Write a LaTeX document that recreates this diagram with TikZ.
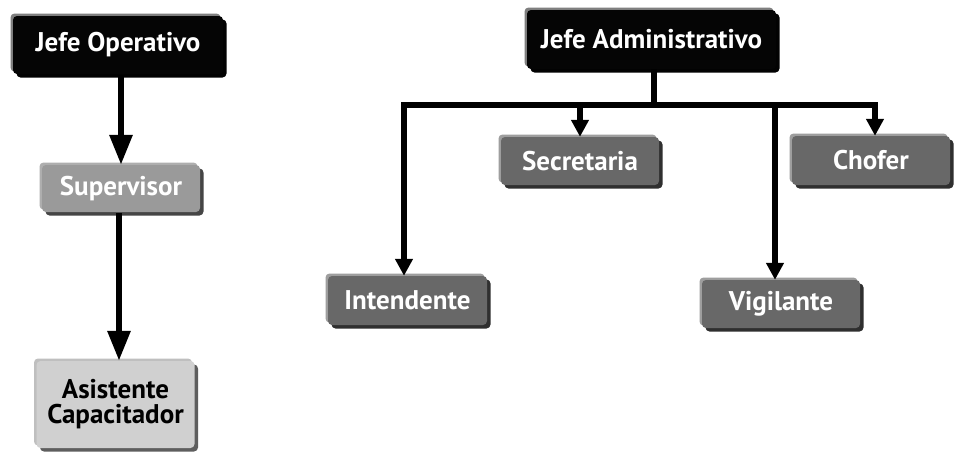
\documentclass[tikz,border=0pt]{standalone}
\usepackage{fontspec}
\setmainfont{PT Sans}
\usetikzlibrary{arrows.meta}
\definecolor{cblack}{HTML}{050505}
\definecolor{cmid}{HTML}{9A9A9A}
\definecolor{cdark}{HTML}{686868}
\definecolor{clight}{HTML}{D0D0D0}
\tikzset{
  bevel/.style={rounded corners=4pt, fill=#1, inner sep=0pt, align=center,
    font=\fontsize{27}{25}\selectfont\bfseries,
    preaction={fill=#1!45!gray!70!white, transform canvas={shift={(-2.5pt,2.5pt)}}},
    preaction={fill=#1!45!black, transform canvas={shift={(3.5pt,-3.5pt)}}}},
  boxsize/.style 2 args={minimum width=#1pt-6pt, minimum height=#2pt-6pt},
  bigarrow/.style={line width=6pt, -{Triangle[width=22pt,length=30pt]}},
  smallarrow/.style={line width=5.5pt, -{Triangle[width=17pt,length=17pt]}},
  busline/.style={line width=5.5pt}
}
\begin{document}
\begin{tikzpicture}[x=1pt,y=-1pt]
\useasboundingbox (0,0) rectangle (959,451);
\fill[white] (0,0) rectangle (959,451);
% left column
\node[bevel=cblack, boxsize={216}{64}, text=white] (jo) at (118,45) {Jefe Operativo};
\node[bevel=cmid, boxsize={164}{53}, text=white] (sup) at (121,188.5) {Supervisor};
\node[bevel=clight, boxsize={164}{93}, text=black] (asis) at (115.5,404.5) {Asistente\\Capacitador};
% right part
\node[bevel=cblack, boxsize={255}{65}, text=white] (ja) at (651.5,39.5) {Jefe Administrativo};
\node[bevel=cdark, boxsize={164}{54}, text=white] (sec) at (580,161) {Secretaria};
\node[bevel=cdark, boxsize={164}{55}, text=white] (cho) at (871,160.5) {Chofer};
\node[bevel=cdark, boxsize={165}{55}, text=white] (int) at (407.5,300.5) {Intendente};
\node[bevel=cdark, boxsize={164}{54}, text=white] (vig) at (781,304) {Vigilante};
% connectors left
\coordinate (joS) at (121,75);
\coordinate (supS) at (119,213);
\draw[bigarrow] (joS) -- (joS |- sup.north);
\draw[bigarrow] (supS) -- (supS |- asis.north);
% bus
\coordinate (bus) at (654,105);
\coordinate (bInt) at (404,105);
\coordinate (bSec) at (580,105);
\coordinate (bVig) at (775,105);
\coordinate (bCho) at (875,105);
\draw[busline] (ja.south -| bus) -- (bus);
\draw[busline, line cap=rect] (bInt) -- (bCho);
\draw[smallarrow] (bInt) -- (bInt |- int.north);
\draw[smallarrow] (bSec) -- (bSec |- sec.north);
\draw[smallarrow] (bVig) -- (bVig |- vig.north);
\draw[smallarrow] (bCho) -- (bCho |- cho.north);
\end{tikzpicture}
\end{document}
